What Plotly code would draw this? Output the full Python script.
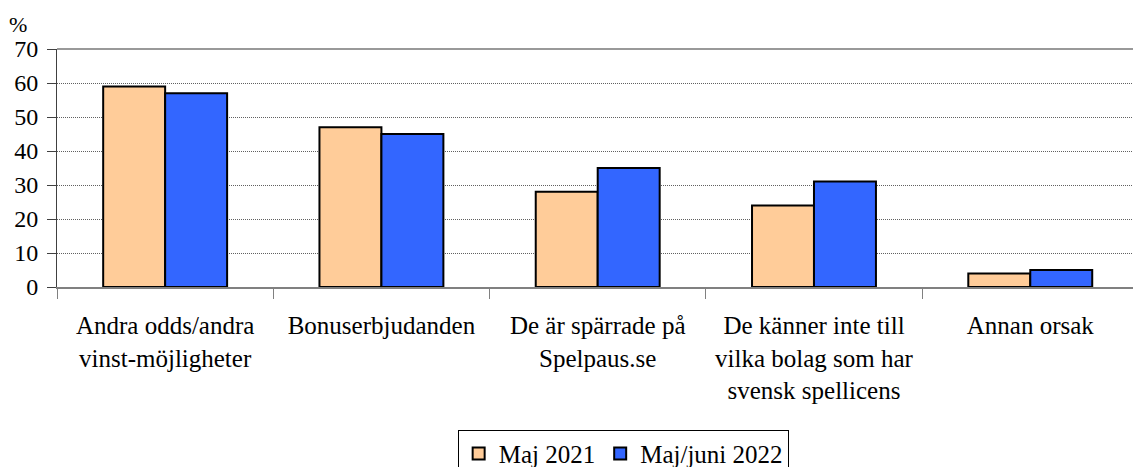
import plotly.graph_objects as go

categories = [
    "Andra odds/andra<br>vinst-möjligheter",
    "Bonuserbjudanden",
    "De är spärrade på<br>Spelpaus.se",
    "De känner inte till<br>vilka bolag som har<br>svensk spellicens",
    "Annan orsak",
]
series_names = ["Maj 2021", "Maj/juni 2022"]
maj_2021 = [59, 47, 28, 24, 4]
maj_juni_2022 = [57, 45, 35, 31, 5]
y_ticks = [0, 10, 20, 30, 40, 50, 60, 70]

FONT = "Liberation Serif"

fig = go.Figure()
fig.add_trace(go.Bar(
    x=categories, y=maj_2021, name=series_names[0],
    marker=dict(color="#FFCC99", line=dict(color="#000000", width=2)),
))
fig.add_trace(go.Bar(
    x=categories, y=maj_juni_2022, name=series_names[1],
    marker=dict(color="#3366FF", line=dict(color="#000000", width=2)),
))

fig.update_layout(
    width=1133, height=467,
    margin=dict(l=57, r=0, t=49, b=180, autoexpand=False),
    paper_bgcolor="white", plot_bgcolor="white",
    barmode="group", bargap=0.427, bargroupgap=0,
    font=dict(family=FONT, size=24, color="#000000"),
    showlegend=True,
    legend=dict(
        orientation="h",
        xref="container", yref="container",
        x=0.55, xanchor="center", y=0.08, yanchor="top",
        bordercolor="#000000", borderwidth=1,
        font=dict(family=FONT, size=25, color="#000000"),
        traceorder="normal",
    ),
    xaxis=dict(
        type="category",
        range=[-0.5, 4.475],
        showgrid=False,
        showline=True, linecolor="#808080", linewidth=2,
        ticks="outside", tickson="boundaries", ticklen=10,
        tickcolor="#808080", tickwidth=1,
        ticklabelstandoff=15,
        tickfont=dict(family=FONT, size=25, color="#000000"),
        automargin=False,
        fixedrange=True,
    ),
    yaxis=dict(
        range=[0, 70],
        tickvals=y_ticks,
        showgrid=True, gridcolor="#606060", griddash="1px,1px", gridwidth=1,
        zeroline=False,
        showline=True, linecolor="#404040", linewidth=1,
        ticks="outside", ticklen=9, tickcolor="#404040", tickwidth=1,
        ticklabelstandoff=4,
        tickfont=dict(family=FONT, size=24, color="#000000"),
        automargin=False,
        fixedrange=True,
    ),
    shapes=[dict(
        type="line", xref="paper", yref="y domain",
        x0=0, x1=1, y0=1, y1=1,
        line=dict(color="#999999", width=2),
    )],
    annotations=[dict(
        text="%", xref="paper", yref="paper",
        x=0, y=1, xanchor="left", yanchor="bottom",
        xshift=-50, yshift=10, showarrow=False,
        font=dict(family=FONT, size=22, color="#000000"),
    )],
)

fig.write_html(
    "out.html",
    config={"displayModeBar": False, "staticPlot": True},
    post_script="document.body.style.margin='0px';",
)
